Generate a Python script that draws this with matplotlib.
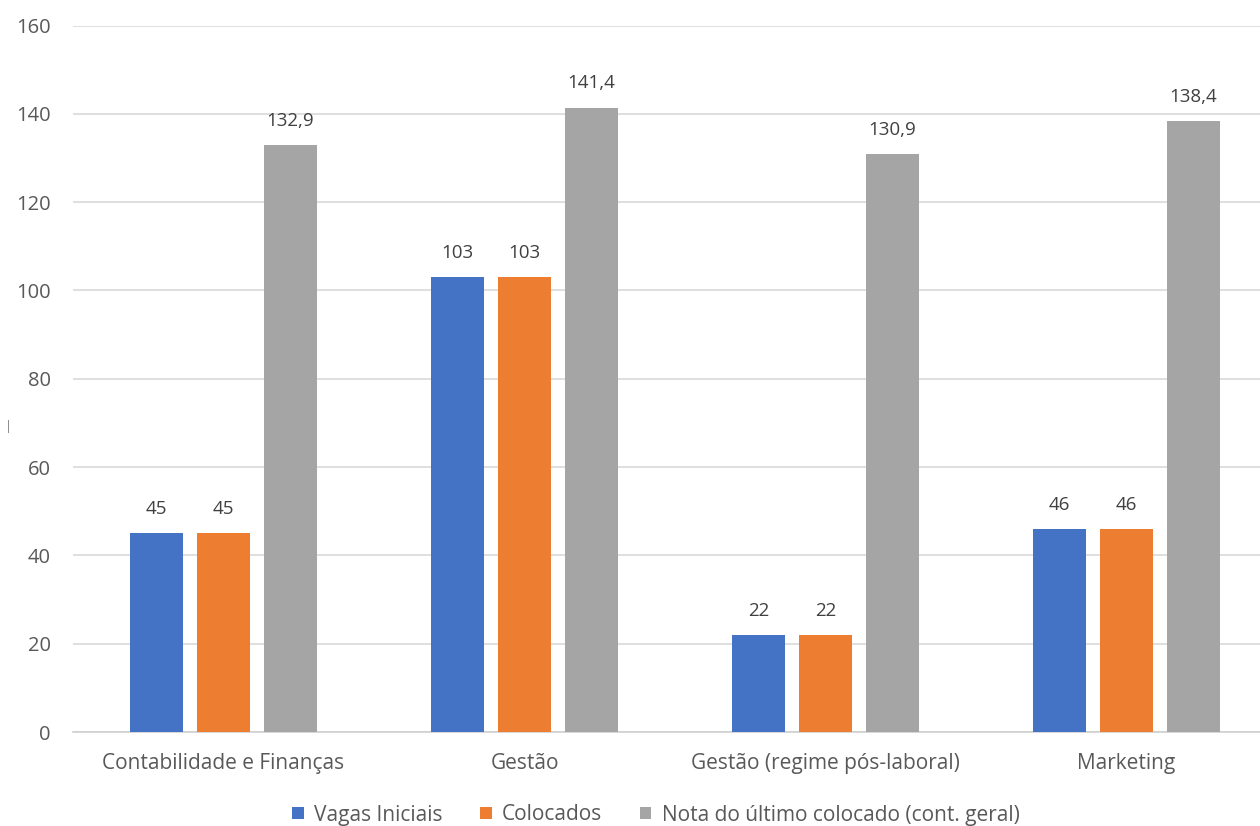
import numpy as np
from matplotlib import pyplot as plt

# data
categories = ["Contabilidade e Finanças", "Gestão", "Gestão (regime pós-laboral)", "Marketing"]
vagas = [45, 103, 22, 46]
colocados = [45, 103, 22, 46]
nota = [132.9, 141.4, 130.9, 138.4]
series_names = ["Vagas Iniciais", "Colocados", "Nota do último colocado (cont. geral)"]
y_ticks = [0, 20, 40, 60, 80, 100, 120, 140, 160]

colors = ["#4472C4", "#ED7D31", "#A5A5A5"]

plt.rcParams['font.family'] = ['Open Sans', 'DejaVu Sans']

fig = plt.figure(figsize=(12.6, 8.26), dpi=100)
ax = fig.add_axes([73 / 1260, 94 / 826, 1204 / 1260, 706.5 / 826])

x = np.arange(len(categories))
width = 0.174
pitch = 0.222

for i, (vals, name) in enumerate(zip([vagas, colocados, nota], series_names)):
    bars = ax.bar(x + (i - 1) * pitch, vals, width, color=colors[i], label=name, zorder=3)
    for b, v in zip(bars, vals):
        txt = f"{v:g}".replace(".", ",")
        ax.annotate(txt, (b.get_x() + b.get_width() / 2, v), xytext=(0, 11),
                    textcoords="offset points", ha="center", va="bottom",
                    fontsize=13.5, color="#404040")

ax.set_xlim(-0.5, len(categories) - 0.5)
ax.set_ylim(0, 160)
ax.set_yticks(y_ticks)
ax.set_xticks(x)
ax.set_xticklabels(categories)
ax.tick_params(axis="both", length=0, colors="#595959")
ax.tick_params(axis="x", pad=15, labelsize=15)
ax.tick_params(axis="y", pad=16, labelsize=14.5)

ax.grid(axis="y", color="#D9D9D9", linewidth=1.2, zorder=0)
for s in ["top", "right", "left"]:
    ax.spines[s].set_visible(False)
ax.spines["bottom"].set_color("#D0D0D0")
ax.spines["bottom"].set_linewidth(1.2)

# small stray mark on the left, as in the reference
fig.text(8 / 1260, 1 - 426 / 826, "|", fontsize=9, color="#808080", ha="center", va="center")

leg = fig.legend(loc="center", bbox_to_anchor=(656 / 1260, 1 - 815 / 826), ncol=3,
                 frameon=False, fontsize=15, handlelength=0.55, handleheight=0.55,
                 handletextpad=0.5, columnspacing=1.8)
for t in leg.get_texts():
    t.set_color("#595959")

fig.savefig("out.png", dpi=100)
